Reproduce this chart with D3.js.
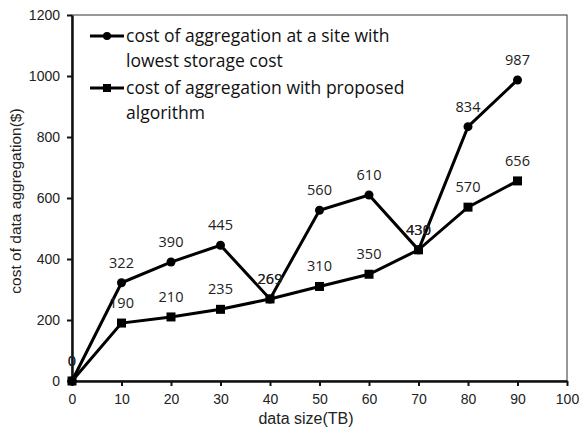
<!DOCTYPE html>
<html>
<head>
<meta charset="utf-8">
<script src="https://cdn.jsdelivr.net/npm/d3@7"></script>
<style>
  body { margin: 0; background: #fff; }
  .tick text { font-family: "Liberation Sans", Arial, sans-serif; font-size: 14px; fill: #222; }
  .lbl { font-family: "Open Sans", "Noto Sans", sans-serif; font-size: 14.5px; fill: #222; }
  .legend text { font-family: "Open Sans", "Noto Sans", sans-serif; font-size: 17.5px; fill: #111; }
</style>
</head>
<body>
<div id="chart"></div>
<script>
// chart data
const sizes = [0, 10, 20, 30, 40, 50, 60, 70, 80, 90];
const lowestStorage = [0, 322, 390, 445, 269, 560, 610, 430, 834, 987];
const proposed = [0, 190, 210, 235, 269, 310, 350, 430, 570, 656];
const xTicks = [0, 10, 20, 30, 40, 50, 60, 70, 80, 90, 100];
const yTicks = [0, 200, 400, 600, 800, 1000, 1200];

const width = 587, height = 430;
const margin = {top: 15, right: 20, bottom: 49, left: 72};

const svg = d3.select("#chart").append("svg")
    .attr("width", width)
    .attr("height", height);

const x = d3.scaleLinear().domain([0, 100]).range([margin.left, width - margin.right]);
const y = d3.scaleLinear().domain([0, 1200]).range([height - margin.bottom, margin.top]);

// frame
svg.append("rect")
    .attr("x", x(0)).attr("y", y(1200))
    .attr("width", x(100) - x(0)).attr("height", y(0) - y(1200))
    .attr("fill", "none").attr("stroke", "#333").attr("stroke-width", 1);

// axes
const xAxis = svg.append("g")
    .attr("transform", `translate(0,${y(0)})`)
    .call(d3.axisBottom(x).tickValues(xTicks).tickFormat(d3.format("d")).tickSize(5).tickSizeOuter(0).tickPadding(8));
xAxis.select(".domain").attr("stroke", "#111").attr("stroke-width", 2.5);
xAxis.selectAll(".tick line").attr("stroke", "#111").attr("stroke-width", 2);

const yAxis = svg.append("g")
    .attr("transform", `translate(${x(0)},0)`)
    .call(d3.axisLeft(y).tickValues(yTicks).tickFormat(d3.format("d")).tickSize(5).tickSizeOuter(0).tickPadding(7));
yAxis.select(".domain").attr("stroke", "#111").attr("stroke-width", 2.5);
yAxis.selectAll(".tick line").attr("stroke", "#111").attr("stroke-width", 2);

// axis titles
svg.append("text")
    .attr("x", 306).attr("y", 424)
    .attr("text-anchor", "middle")
    .style("font-family", "Liberation Sans, Arial, sans-serif")
    .style("font-size", "16px").style("fill", "#222")
    .text("data size(TB)");

svg.append("text")
    .attr("transform", `translate(21,${y(590)}) rotate(-90)`)
    .attr("text-anchor", "middle")
    .style("font-family", "Liberation Sans, Arial, sans-serif")
    .style("font-size", "15.5px").style("fill", "#222")
    .text("cost of data aggregation($)");

const line = d3.line().x((d, i) => x(sizes[i])).y(d => y(d));

// series lines
svg.append("path").datum(lowestStorage)
    .attr("d", line).attr("fill", "none")
    .attr("stroke", "#000").attr("stroke-width", 3);
svg.append("path").datum(proposed)
    .attr("d", line).attr("fill", "none")
    .attr("stroke", "#000").attr("stroke-width", 3);

// markers
svg.selectAll(".dot").data(lowestStorage).enter()
    .append("circle").attr("class", "dot")
    .attr("cx", (d, i) => x(sizes[i])).attr("cy", d => y(d))
    .attr("r", 4.5).attr("fill", "#000");
svg.selectAll(".sq").data(proposed).enter()
    .append("rect").attr("class", "sq")
    .attr("x", (d, i) => x(sizes[i]) - 4.5).attr("y", d => y(d) - 4.5)
    .attr("width", 9).attr("height", 9).attr("fill", "#000");

// value labels
svg.selectAll(".lbl1").data(lowestStorage).enter()
    .append("text").attr("class", "lbl")
    .attr("x", (d, i) => x(sizes[i])).attr("y", d => y(d) - 15)
    .attr("text-anchor", "middle")
    .text(d => d);
svg.selectAll(".lbl2").data(proposed).enter()
    .append("text").attr("class", "lbl")
    .attr("x", (d, i) => x(sizes[i])).attr("y", d => y(d) - 15)
    .attr("text-anchor", "middle")
    .text(d => d);

// legend
const legend = svg.append("g").attr("class", "legend");
legend.append("line").attr("x1", 90).attr("x2", 124).attr("y1", 36).attr("y2", 36)
    .attr("stroke", "#000").attr("stroke-width", 3);
legend.append("circle").attr("cx", 107).attr("cy", 36).attr("r", 4).attr("fill", "#000");
legend.append("text").attr("x", 126).attr("y", 42).text("cost of aggregation at a site with");
legend.append("text").attr("x", 126).attr("y", 67).text("lowest storage cost");

legend.append("line").attr("x1", 90).attr("x2", 124).attr("y1", 88).attr("y2", 88)
    .attr("stroke", "#000").attr("stroke-width", 3);
legend.append("rect").attr("x", 103).attr("y", 84).attr("width", 8).attr("height", 8).attr("fill", "#000");
legend.append("text").attr("x", 126).attr("y", 94).text("cost of aggregation with proposed");
legend.append("text").attr("x", 126).attr("y", 119).text("algorithm");
</script>
</body>
</html>
